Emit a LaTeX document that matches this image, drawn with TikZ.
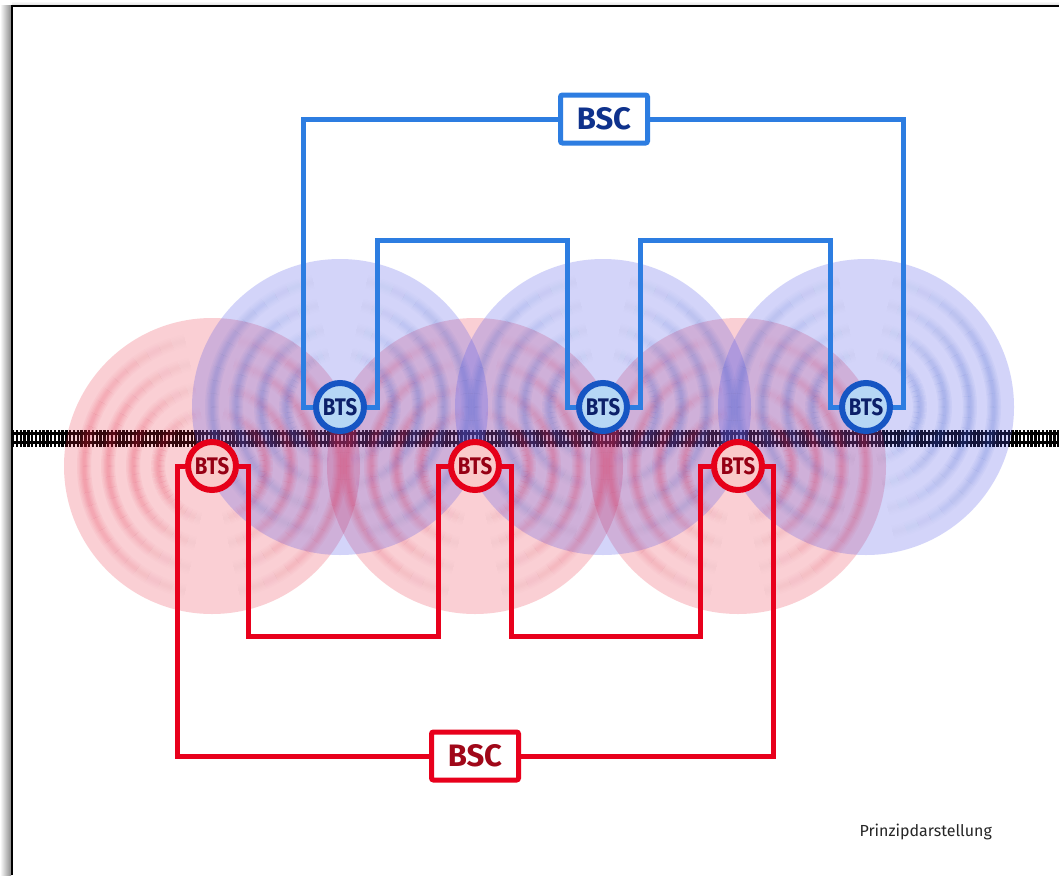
\documentclass[tikz,border=0pt]{standalone}
\usepackage{fontspec}
\setmainfont{Fira Sans}
\usetikzlibrary{calc}

\definecolor{wireblue}{RGB}{45,125,225}
\definecolor{wirered}{RGB}{232,0,28}
\definecolor{diskblue}{RGB}{80,85,235}
\definecolor{diskred}{RGB}{235,40,60}
\definecolor{ringblue}{RGB}{60,95,205}
\definecolor{ringred}{RGB}{228,30,65}
\definecolor{btsblueline}{RGB}{22,85,195}
\definecolor{btsbluefill}{RGB}{182,215,245}
\definecolor{btsbluetext}{RGB}{12,32,105}
\definecolor{btsredline}{RGB}{230,0,25}
\definecolor{btsredfill}{RGB}{250,202,202}
\definecolor{btsredtext}{RGB}{150,0,20}
\definecolor{bscbluetext}{RGB}{15,50,140}
\definecolor{bscredtext}{RGB}{160,8,25}

\pgfdeclarelayer{paper}
\pgfdeclarelayer{disks}
\pgfdeclarelayer{wires}
\pgfsetlayers{paper,disks,wires,main}

\newcommand\btslabel{\fontsize{24}{24}\selectfont\bfseries\scalebox{0.85}[1]{BTS}}

% soft radio ripples on both sides of a station: #1,#2 centre, #3 colour
\newcommand\ripples[3]{%
  \foreach \r in {54,79,104,128}{%
    \foreach \side in {0,180}{%
      \foreach \a in {-84,-78,...,78}{%
        \pgfmathsetmacro\op{0.055*cos(\a+3)^2}%
        \pgfmathsetmacro\sa{\side+\a}%
        \pgfmathsetmacro\ea{\side+\a+6}%
        \foreach \w in {14,11,8,5.5,3}{%
          \draw[#3, line width=\w pt, opacity=\op]
            ([shift={(\sa:\r)}]#1,#2) arc[start angle=\sa, end angle=\ea, radius=\r];
        }%
      }%
    }%
  }%
}

\tikzset{
  wireB/.style={draw=wireblue, line width=5pt},
  wireR/.style={draw=wirered, line width=5pt},
  btsB/.style={circle, draw=btsblueline, fill=btsbluefill, line width=6pt,
    minimum size=48pt, inner sep=0pt, text=btsbluetext},
  btsR/.style={circle, draw=btsredline, fill=btsredfill, line width=6pt,
    minimum size=48pt, inner sep=0pt, text=btsredtext},
  bscbox/.style={rectangle, fill=white, line width=5pt, rounded corners=2pt,
    minimum width=87pt, minimum height=48pt, inner sep=0pt,
    font=\fontsize{31}{31}\selectfont\bfseries},
}

\begin{document}
\begin{tikzpicture}[x=1pt,y=-1pt]
\useasboundingbox (0,0) rectangle (1059,875);

\begin{pgfonlayer}{paper}
  \fill[white] (0,0) rectangle (1059,875);
  % sheet edge with its shadow
  \shade[left color=white, right color=black!45] (0,6) rectangle (11,875);
  \shade[top color=white, bottom color=black!12] (12,1) rectangle (1059,5);
  \draw[line width=1.6pt] (12,875) -- (12,6) -- (1059,6);
\end{pgfonlayer}

\begin{pgfonlayer}{disks}
  % railway track
  \coordinate (tw) at (12,438);
  \coordinate (te) at (1059,438);
  \draw[line width=17pt, dash pattern=on 2.4pt off 1.4pt, black] (tw) -- (te);
  \draw[line width=2.6pt, black] ([yshift=-4.5pt]tw) -- ([yshift=-4.5pt]te);
  \draw[line width=2.6pt, black] ([yshift=4.5pt]tw) -- ([yshift=4.5pt]te);

  % coverage areas
  \foreach \cx in {212,475,738}{
    \fill[diskred, opacity=0.22] (\cx,466) circle[radius=148];
  }
  \foreach \cx in {340,603,866}{
    \fill[diskblue, opacity=0.25] (\cx,407) circle[radius=148];
  }
  \foreach \cx in {212,475,738}{\ripples{\cx}{466}{ringred}}
  \foreach \cx in {340,603,866}{\ripples{\cx}{407}{ringblue}}
\end{pgfonlayer}

% base stations
\node[btsB] (b1) at (340,407) {\btslabel};
\node[btsB] (b2) at (603,407) {\btslabel};
\node[btsB] (b3) at (866,407) {\btslabel};
\node[btsR] (r1) at (212,466) {\btslabel};
\node[btsR] (r2) at (475,466) {\btslabel};
\node[btsR] (r3) at (738,466) {\btslabel};

% controllers
\node[bscbox, draw=wireblue, text=bscbluetext] (bscb) at (604,119) {BSC};
\node[bscbox, draw=wirered, text=bscredtext] (bscr) at (475,756) {BSC};

% wiring corners
\coordinate (bo1) at (303,119);
\coordinate (bo2) at (903,119);
\coordinate (bi1) at (377,240);
\coordinate (bi2) at (567,240);
\coordinate (bi3) at (640,240);
\coordinate (bi4) at (830,240);
\coordinate (ro1) at (177,756);
\coordinate (ro2) at (773,756);
\coordinate (ri1) at (248,636);
\coordinate (ri2) at (438,636);
\coordinate (ri3) at (511,636);
\coordinate (ri4) at (700,636);

\begin{pgfonlayer}{wires}
  \draw[wireB] (b1.west) -| (bo1) -- (bscb.west);
  \draw[wireB] (bscb.east) -- (bo2) |- (b3.east);
  \draw[wireB] (b1.east) -| (bi1) -- (bi2) |- (b2.west);
  \draw[wireB] (b2.east) -| (bi3) -- (bi4) |- (b3.west);
  \draw[wireR] (r1.west) -| (ro1) -- (bscr.west);
  \draw[wireR] (bscr.east) -- (ro2) |- (r3.east);
  \draw[wireR] (r1.east) -| (ri1) -- (ri2) |- (r2.west);
  \draw[wireR] (r2.east) -| (ri3) -- (ri4) |- (r3.west);
\end{pgfonlayer}

\node[font=\fontsize{16}{16}\selectfont, text=black!85, anchor=west] (cap) at (856,832) {Prinzipdarstellung};
\end{tikzpicture}
\end{document}
